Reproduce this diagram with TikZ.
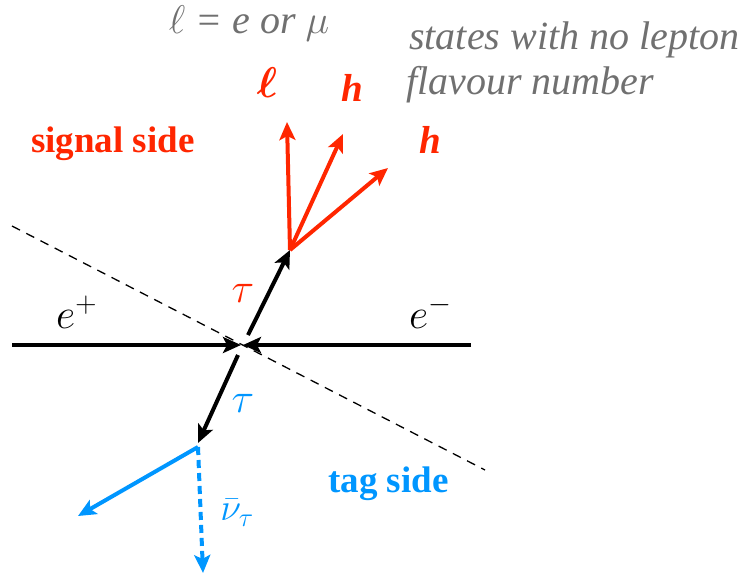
\RequirePackage{fix-cm}
\documentclass[tikz,border=0pt]{standalone}
\usepackage{fontspec}
\setmainfont{Liberation Serif}
\usepackage{bm}
\usetikzlibrary{arrows.meta}
\definecolor{sigred}{RGB}{255,38,0}
\definecolor{tagblue}{RGB}{0,150,255}
\definecolor{notegray}{RGB}{112,112,112}
\begin{document}
\begin{tikzpicture}[x=1pt,y=-1pt,
  tip/.style={-{Stealth[length=18pt,width=16pt,inset=4pt]}},
  beam/.style={line width=4pt,tip},
  sigarrow/.style={line width=4pt,draw=sigred,-{Stealth[length=18pt,width=16pt,inset=4pt,sigred]}},
  tagarrow/.style={line width=4pt,draw=tagblue,-{Stealth[length=18pt,width=16pt,inset=4pt,tagblue]}},
  axis/.style={line width=1.3pt,dash pattern=on 9pt off 7pt},
  note/.style={font=\fontsize{40}{44}\selectfont\itshape,text=notegray,inner sep=0pt},
  side/.style={font=\fontsize{37}{40}\selectfont\bfseries,inner sep=0pt},
  mlab/.style={font=\fontsize{42}{46}\selectfont,inner sep=0pt},
  prod/.style={font=\fontsize{39}{42}\selectfont\bfseries\itshape,text=sigred,inner sep=0pt}]
\useasboundingbox (0,0) rectangle (743,574);
% coordinates
\coordinate (ep) at (12,345);
\coordinate (epe) at (241,345);
\coordinate (em) at (471,345);
\coordinate (eme) at (243,345);
\coordinate (d1) at (12,226);
\coordinate (d2) at (485,470);
\coordinate (tu0) at (248,335);
\coordinate (tu) at (290,250);
\coordinate (p1) at (287,122);
\coordinate (p2) at (343,134);
\coordinate (p3) at (388,168);
\coordinate (td0) at (238,355);
\coordinate (td) at (198,443);
\coordinate (tv) at (198,447);
\coordinate (b1) at (78,516);
\coordinate (nu) at (203,573);
% lines
\draw[axis] (d1) -- (d2);
\draw[beam] (ep) -- (epe);
\draw[beam] (em) -- (eme);
\draw[beam] (tu0) -- (tu);
\draw[beam] (td0) -- (td);
\draw[sigarrow] (tu) -- (p1);
\draw[sigarrow] (tu) -- (p2);
\draw[sigarrow] (tu) -- (p3);
\draw[tagarrow] (tv) -- (b1);
\draw[tagarrow,dash pattern=on 8pt off 5pt] (tv) -- (nu);
% labels
\node[note,anchor=base] (lab) at (249,33) {$\ell$ = \textit{e or} $\mu$};
\node[note,anchor=base west] (st1) at (409,49) {states with no lepton};
\node[note,anchor=base west] (st2) at (406,94) {flavour number};
\node[prod,anchor=base,font=\fontsize{43}{46}\selectfont] (ll) at (267,97) {$\bm{\ell}$};
\node[prod,anchor=base] (h1) at (352,101) {h};
\node[prod,anchor=base] (h2) at (430,153) {h};
\node[side,text=sigred,anchor=base west] (sig) at (31,152) {signal side};
\node[side,text=tagblue,anchor=base west] (tag) at (328,492) {tag side};
\node[mlab,anchor=base west] (eplab) at (56,328) {$e^{+}$};
\node[mlab,anchor=base west] (emlab) at (409,328) {$e^{-}$};
\node[mlab,text=sigred] (t1) at (243,293) {$\tau$};
\node[mlab,text=tagblue] (t2) at (243,403) {$\tau$};
\node[font=\fontsize{38}{42}\selectfont,text=tagblue,inner sep=0pt] (nl) at (237,513) {$\bar\nu_\tau$};
\end{tikzpicture}
\end{document}
